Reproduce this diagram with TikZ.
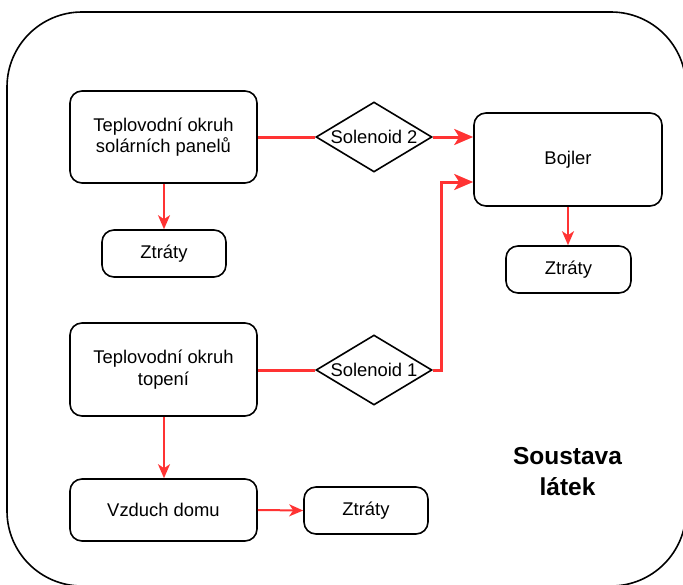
\documentclass[tikz,border=0pt]{standalone}
\usepackage{fontspec}
\setmainfont{Liberation Sans}
\usetikzlibrary{shapes.geometric,arrows.meta,calc}
\definecolor{flow}{HTML}{FF3333}
\begin{document}
\begin{tikzpicture}[x=1pt,y=-1pt,
  box/.style={draw=black,line width=1.6pt,rounded corners=12pt,fill=white,
    align=center,inner sep=0pt,font=\fontsize{18.4}{21.5}\selectfont},
  valve/.style={draw=black,line width=1.6pt,diamond,aspect=1.66,inner sep=0pt,
    minimum width=116pt,minimum height=70pt,font=\fontsize{18.4}{21.5}\selectfont},
  flowwide/.style={draw=flow,line width=3pt},
  flownarrow/.style={draw=flow,line width=2pt},
  bigtip/.style={-{Stealth[length=19pt,width=16pt,inset=5pt]}},
  smalltip/.style={-{Stealth[length=14pt,width=12pt,inset=4pt]}}]
\useasboundingbox (0,0) rectangle (683,584);
% container
\draw[line width=1.6pt,rounded corners=75pt] (7,12) rectangle (686,586);
% nodes
\node[box,minimum width=187pt,minimum height=92pt] (A) at (163.5,137) {Teplovodní okruh\\solárních panelů};
\node[box,minimum width=124pt,minimum height=47pt] (Z1) at (164,253.5) {Ztráty};
\node[valve] (S2) at (374,137) {Solenoid 2};
\node[box,minimum width=188pt,minimum height=93pt] (Bo) at (568,159.5) {Bojler};
\node[box,minimum width=125pt,minimum height=47pt] (Z2) at (568.5,269.5) {Ztráty};
\node[box,minimum width=187pt,minimum height=93pt] (B) at (163.5,369.5) {Teplovodní okruh\\topení};
\node[valve] (S1) at (374,370) {Solenoid 1};
\node[box,minimum width=187pt,minimum height=62pt] (V) at (163.5,510) {Vzduch domu};
\node[box,minimum width=124pt,minimum height=47pt] (Z3) at (366,510.5) {Ztráty};
\node[align=center,font=\bfseries\fontsize{24.5}{31}\selectfont] (T) at (567.5,472) {Soustava\\látek};
% connectors
\draw[flowwide] (A.east |- S2.west) -- (S2.west);
\draw[flowwide,bigtip] (S2.east) -- (S2.east -| Bo.west);
\draw[flowwide] (B.east |- S1.west) -- (S1.west);
\draw[flowwide,bigtip] (S1.east) -- ++(9,0) |- ([yshift=-22.5pt]Bo.west);
\draw[flownarrow,smalltip] (A.south -| Z1.north) -- (Z1.north);
\draw[flownarrow,smalltip] (Bo.south) -- (Bo.south |- Z2.north);
\draw[flownarrow,smalltip] ([xshift=0.5pt]B.south) -- ([xshift=0.5pt]V.north);
\draw[flownarrow,smalltip] (V.east) -- (Z3.west);
\end{tikzpicture}
\end{document}
